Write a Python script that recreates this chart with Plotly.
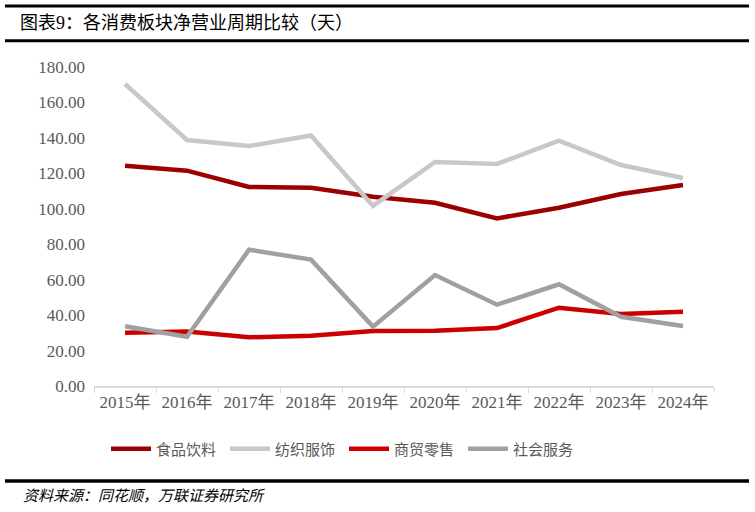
import plotly.graph_objects as go

years = ["2015年", "2016年", "2017年", "2018年", "2019年", "2020年", "2021年", "2022年", "2023年", "2024年"]
food = [124.3, 121.5, 112.3, 111.9, 106.8, 103.4, 94.6, 100.6, 108.3, 113.4]
textile = [170.4, 138.8, 135.4, 141.4, 101.6, 126.4, 125.3, 138.4, 124.7, 117.4]
retail = [30.1, 30.7, 27.5, 28.4, 31.0, 31.2, 32.7, 44.2, 40.6, 41.9]
service = [33.7, 27.8, 76.9, 71.3, 33.5, 62.6, 45.9, 57.4, 39.1, 33.9]

names = ["食品饮料", "纺织服饰", "商贸零售", "社会服务"]
colors = ["#9C0000", "#C8C8C8", "#CC0000", "#A0A0A0"]
series = [food, textile, retail, service]

W, H = 755, 512
L, R, T, B = 94, 714, 67, 386

def xp(px):
    return (px - L) / (R - L)

def yp(py):
    return (B - py) / (B - T)

serif = "'Liberation Serif', 'DejaVu Serif', 'Noto Sans CJK SC', serif"

fig = go.Figure()
for n, c, s in zip(names, colors, series):
    fig.add_trace(go.Scatter(x=years, y=s, name=n, mode="lines",
                             line=dict(color=c, width=4.5)))

fig.update_layout(
    width=W, height=H,
    margin=dict(l=L, r=W - R, t=T, b=H - B),
    paper_bgcolor="white", plot_bgcolor="white",
    font=dict(family=serif, color="#595959", size=16),
    showlegend=True,
    legend=dict(orientation="h", x=xp(106), xanchor="left", y=yp(449), yanchor="middle",
                font=dict(size=15, color="#595959"), itemwidth=40,
                entrywidth=64, entrywidthmode="pixels", bgcolor="rgba(0,0,0,0)"),
    xaxis=dict(type="category", range=[-0.5, 9.5], showline=True, linecolor="#D9D9D9", linewidth=1.5,
               ticks="outside", tickson="boundaries", ticklen=5, tickcolor="#D9D9D9",
               showgrid=False, tickfont=dict(size=17, color="#595959"), fixedrange=True),
    yaxis=dict(range=[0, 180], dtick=20, tick0=0, tickformat=".2f", showgrid=False,
               zeroline=False, showline=False, ticks="", ticklabelstandoff=8,
               tickfont=dict(size=17, color="#595959"), fixedrange=True),
)

shapes = []
for py, lw in [(6, 3), (40.7, 3), (481, 3.5)]:
    shapes.append(dict(type="line", xref="paper", yref="paper",
                       x0=xp(5), x1=xp(749), y0=yp(py), y1=yp(py),
                       line=dict(color="black", width=lw)))
fig.update_layout(shapes=shapes)

fig.add_annotation(text="图表9：各消费板块净营业周期比较（天）", xref="paper", yref="paper",
                   x=xp(18), y=yp(23), xanchor="left", yanchor="middle", showarrow=False,
                   font=dict(size=18, color="black", family=serif))
fig.add_annotation(text="<i>资料来源：同花顺，万联证券研究所</i>", xref="paper", yref="paper",
                   x=xp(21), y=yp(496), xanchor="left", yanchor="middle", showarrow=False,
                   font=dict(size=15, color="black", family=serif))

fig.write_html("out.html")
